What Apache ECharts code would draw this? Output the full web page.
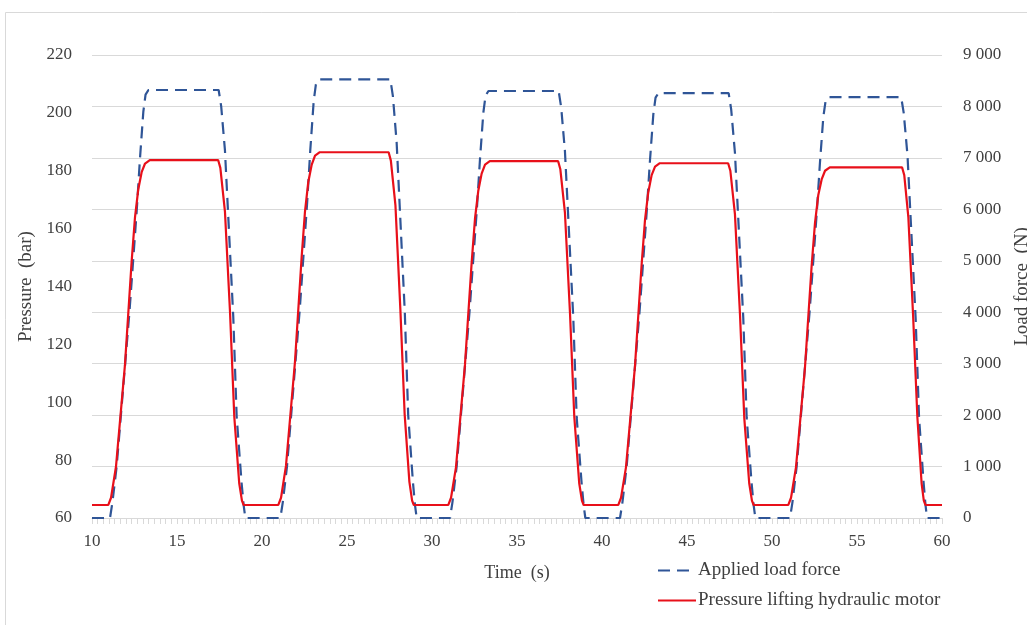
<!DOCTYPE html>
<html>
<head>
<meta charset="utf-8">
<script src="https://cdn.jsdelivr.net/npm/echarts@6/dist/echarts.min.js"></script>
<style>
  html, body { margin: 0; padding: 0; background: #fff; }
  #chart { width: 1027px; height: 625px; }
</style>
</head>
<body>
<div id="chart"></div>
<script>
const FONT = 'Liberation Serif, Times New Roman, serif'
const TEXT = '#404040'

// Applied load force (N), [time s, force]
const loadForce = [
  [10, 0], [11.06, 0], [11.2, 300], [11.45, 1000], [12.2, 3990], [12.63, 5970], [12.82, 6980], [13.02, 7900], [13.15, 8230], [13.32, 8320],
  [17.45, 8320], [17.6, 8000], [17.82, 7150], [18.31, 3910], [18.51, 1970], [18.8, 680], [18.92, 250], [19.02, 0],
  [21.08, 0], [21.22, 300], [21.47, 1000], [22.22, 4050], [22.65, 6100], [22.84, 7150], [23.04, 8100], [23.17, 8430], [23.36, 8527],
  [27.55, 8527], [27.7, 8200], [27.92, 7300], [28.4, 4000], [28.6, 2000], [28.88, 690], [29.0, 250], [29.1, 0],
  [31.06, 0], [31.2, 300], [31.45, 1000], [32.2, 3980], [32.63, 5960], [32.82, 6960], [33.02, 7880], [33.15, 8210], [33.32, 8300],
  [37.45, 8300], [37.6, 7980], [37.82, 7130], [38.31, 3900], [38.51, 1960], [38.8, 680], [38.92, 250], [39.02, 0],
  [41.06, 0], [41.2, 300], [41.45, 1000], [42.2, 3970], [42.63, 5950], [42.82, 6940], [43.02, 7850], [43.15, 8170], [43.32, 8260],
  [47.45, 8260], [47.6, 7940], [47.82, 7100], [48.31, 3890], [48.51, 1950], [48.8, 680], [48.92, 250], [49.02, 0],
  [51.06, 0], [51.2, 300], [51.45, 1000], [52.2, 3960], [52.63, 5920], [52.82, 6900], [53.02, 7800], [53.15, 8100], [53.32, 8180],
  [57.6, 8180], [57.75, 7870], [57.97, 7050], [58.45, 3880], [58.65, 1950], [58.92, 680], [59.03, 250], [59.12, 0], [60, 0],
]

// Pressure lifting hydraulic motor (bar), [time s, pressure]
const pressure = [
  [10, 64.5], [10.96, 64.5], [11.12, 67], [11.41, 77.7], [11.94, 113], [12.33, 148.5], [12.53, 164], [12.72, 173.5], [12.92, 179.5], [13.12, 182.5], [13.4, 183.7],
  [17.42, 183.7], [17.55, 181], [17.82, 166], [18.12, 131], [18.37, 95], [18.66, 72], [18.82, 66], [18.92, 64.5],
  [20.96, 64.5], [21.12, 67], [21.41, 78], [21.94, 114], [22.33, 150], [22.53, 166], [22.72, 176], [22.92, 182], [23.12, 185.2], [23.4, 186.4],
  [27.45, 186.4], [27.58, 183.5], [27.85, 168], [28.14, 132], [28.39, 96], [28.67, 72.5], [28.83, 66], [28.93, 64.5],
  [30.96, 64.5], [31.12, 67], [31.41, 77.5], [31.94, 113], [32.33, 148], [32.53, 163.5], [32.72, 173], [32.92, 179], [33.12, 182.1], [33.4, 183.3],
  [37.42, 183.3], [37.55, 180.5], [37.82, 165.5], [38.12, 130.5], [38.37, 95], [38.66, 72], [38.82, 66], [38.92, 64.5],
  [40.96, 64.5], [41.12, 67], [41.41, 77.5], [41.94, 112.5], [42.33, 147.5], [42.53, 163], [42.72, 172.5], [42.92, 178.5], [43.12, 181.4], [43.4, 182.6],
  [47.42, 182.6], [47.55, 180], [47.82, 165], [48.12, 130], [48.37, 94.5], [48.66, 72], [48.82, 66], [48.92, 64.5],
  [50.96, 64.5], [51.12, 67], [51.41, 77.5], [51.94, 112], [52.33, 147], [52.53, 162], [52.72, 171.5], [52.92, 177], [53.12, 180], [53.4, 181.2],
  [57.65, 181.2], [57.78, 178.5], [58.02, 164], [58.3, 130], [58.55, 95], [58.8, 72], [58.93, 66], [59.03, 64.5], [60, 64.5],
]

const timeAxis = { min: 10, max: 60, step: 5 }
const pressureAxis = { min: 60, max: 220, step: 20 }
const forceAxis = { min: 0, max: 9000, step: 1000 }

const chart = echarts.init(document.getElementById('chart'))

// 9 000 style thousands
const spaced = (v) => (v >= 1000 ? Math.floor(v / 1000) + ' ' + String(v % 1000).padStart(3, '0') : String(v))

chart.setOption({
  backgroundColor: '#fff',
  animation: false,
  textStyle: { fontFamily: FONT },
  graphic: [{
    type: 'rect',
    shape: { x: 5.5, y: 12.5, width: 1100, height: 700 },
    style: { fill: 'none', stroke: '#d9d9d9', lineWidth: 1 },
    silent: true,
    z: -10,
  }],
  grid: { left: 92, right: 85, top: 55, bottom: 107, outerBoundsMode: 'none' },
  legend: {
    orient: 'vertical',
    left: 657,
    top: 561,
    padding: 0,
    itemWidth: 38,
    itemHeight: 14,
    itemGap: 11,
    itemStyle: { opacity: 0 },
    textStyle: { fontFamily: FONT, fontSize: 19, color: TEXT, padding: [0, 0, 0, -3] },
    data: ['Applied load force', 'Pressure lifting hydraulic motor'],
  },
  xAxis: {
    type: 'value',
    min: timeAxis.min,
    max: timeAxis.max,
    interval: timeAxis.step,
    name: 'Time  (s)',
    nameLocation: 'middle',
    nameGap: 46,
    nameTextStyle: { fontFamily: FONT, fontSize: 18, color: TEXT },
    axisLine: { lineStyle: { color: '#d9d9d9', width: 1 } },
    axisTick: { show: true, length: 6, lineStyle: { color: '#d9d9d9' } },
    minorTick: { show: true, splitNumber: 15, length: 6, lineStyle: { color: '#d9d9d9' } },
    splitLine: { show: false },
    axisLabel: { fontFamily: FONT, fontSize: 17, color: TEXT, margin: 15 },
  },
  yAxis: [
    {
      type: 'value',
      position: 'left',
      min: pressureAxis.min,
      max: pressureAxis.max,
      interval: pressureAxis.step,
      name: 'Pressure  (bar)',
      nameLocation: 'middle',
      nameRotate: 90,
      nameGap: 51,
      nameTextStyle: { fontFamily: FONT, fontSize: 19, color: TEXT },
      axisLine: { show: false },
      axisTick: { show: false },
      splitLine: { show: false },
      axisLabel: { fontFamily: FONT, fontSize: 17, color: TEXT, margin: 20 },
    },
    {
      type: 'value',
      position: 'right',
      min: forceAxis.min,
      max: forceAxis.max,
      interval: forceAxis.step,
      name: 'Load force  (N)',
      nameLocation: 'middle',
      nameRotate: 90,
      nameGap: 70,
      nameTextStyle: { fontFamily: FONT, fontSize: 19, color: TEXT },
      axisLine: { show: false },
      axisTick: { show: false },
      splitLine: { show: true, lineStyle: { color: '#d9d9d9', width: 1 } },
      axisLabel: { fontFamily: FONT, fontSize: 17, color: TEXT, margin: 21, formatter: spaced },
    },
  ],
  series: [
    {
      name: 'Applied load force',
      type: 'line',
      yAxisIndex: 1,
      data: loadForce,
      showSymbol: false,
      symbol: 'none',
      lineStyle: { color: '#2f5597', width: 2.2, type: [12, 7] },
      itemStyle: { color: '#2f5597' },
      z: 2,
    },
    {
      name: 'Pressure lifting hydraulic motor',
      type: 'line',
      yAxisIndex: 0,
      data: pressure,
      showSymbol: false,
      symbol: 'none',
      lineStyle: { color: '#e8101a', width: 2.2 },
      itemStyle: { color: '#e8101a' },
      z: 3,
    },
  ],
})
</script>
</body>
</html>
